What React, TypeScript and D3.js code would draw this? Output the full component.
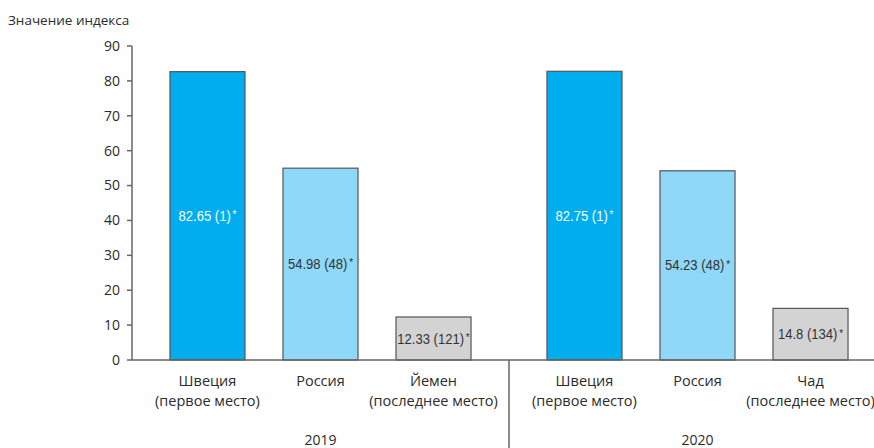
import React from "react";
import * as d3 from "d3";

const years = ["2019", "2020"];
const countries2019 = ["Швеция|(первое место)", "Россия", "Йемен|(последнее место)"];
const countries2020 = ["Швеция|(первое место)", "Россия", "Чад|(последнее место)"];
const values2019 = [82.65, 54.98, 12.33];
const values2020 = [82.75, 54.23, 14.8];
const ranks2019 = [1, 48, 121];
const ranks2020 = [1, 48, 134];
const barColors = ["#00aeef", "#8fd8f7", "#d3d3d3"];
const labelColors = ["#ffffff", "#333333", "#333333"];
const yTicks = [0, 10, 20, 30, 40, 50, 60, 70, 80, 90];

const W = 874;
const H = 448;
const axisX = 132;
const groupWidth = 377;

export default function App() {
  const y = d3.scaleLinear().domain([0, 90]).range([360, 46]);
  const groupScale = d3
    .scaleBand<string>()
    .domain(years)
    .range([axisX, axisX + groupWidth * 2]);
  const inner = d3
    .scaleBand<number>()
    .domain([0, 1, 2])
    .range([0, groupWidth])
    .paddingInner(0.336)
    .paddingOuter(0.336);

  const groups = [
    { year: years[0], names: countries2019, values: values2019, ranks: ranks2019 },
    { year: years[1], names: countries2020, values: values2020, ranks: ranks2020 },
  ];

  const sans = "'Open Sans', 'DejaVu Sans', sans-serif";
  const narrow = "'Liberation Sans', Arial, sans-serif";

  return (
    <svg
      width={W}
      height={H}
      style={{ position: "absolute", left: 0, top: 0, background: "#fff" }}
    >
      <text x={8} y={25} fontFamily={sans} fontSize={13.5} fill="#2b2b2b">
        Значение индекса
      </text>

      {/* Y axis */}
      <line x1={axisX} x2={axisX} y1={y(90)} y2={y(0)} stroke="#666" strokeWidth={1.5} />
      {yTicks.map((t) => (
        <g key={t}>
          <line x1={axisX - 5} x2={axisX} y1={y(t)} y2={y(t)} stroke="#666" strokeWidth={1.5} />
          <text
            x={axisX - 12}
            y={y(t)}
            dy="0.35em"
            textAnchor="end"
            fontFamily={sans}
            fontSize={14}
            fill="#2b2b2b"
          >
            {t}
          </text>
        </g>
      ))}

      {/* Bars */}
      {groups.map((g) => {
        const gx = groupScale(g.year)!;
        return (
          <g key={g.year}>
            {g.values.map((v, i) => {
              const bx = gx + inner(i)!;
              const bw = inner.bandwidth();
              const cx = bx + bw / 2;
              const cy = (y(v) + y(0)) / 2;
              const lines = g.names[i].split("|");
              return (
                <g key={i}>
                  <rect
                    x={bx}
                    y={y(v)}
                    width={bw}
                    height={y(0) - y(v)}
                    fill={barColors[i]}
                    stroke="#555"
                    strokeWidth={1.2}
                  />
                  {/* condensed value label */}
                  <text
                    transform={`translate(${cx},${cy}) scale(0.9,1)`}
                    dy="0.35em"
                    textAnchor="middle"
                    fontFamily={narrow}
                    fontSize={14.5}
                    fill={labelColors[i]}
                  >
                    {`${v} (${g.ranks[i]})`}
                    <tspan fontSize={11} dy="-0.25em" dx="2">*</tspan>
                  </text>
                  {lines.map((ln, k) => (
                    <text
                      key={k}
                      x={cx}
                      y={386 + k * 20}
                      textAnchor="middle"
                      fontFamily={sans}
                      fontSize={14.5}
                      fill="#2b2b2b"
                    >
                      {ln}
                    </text>
                  ))}
                </g>
              );
            })}
            <text
              x={gx + groupWidth / 2}
              y={445}
              textAnchor="middle"
              fontFamily={sans}
              fontSize={14}
              fill="#2b2b2b"
            >
              {g.year}
            </text>
          </g>
        );
      })}

      {/* X axis and group separator */}
      <line x1={axisX} x2={W} y1={y(0)} y2={y(0)} stroke="#666" strokeWidth={1.5} />
      <line
        x1={groupScale(years[1])!}
        x2={groupScale(years[1])!}
        y1={y(0)}
        y2={H}
        stroke="#666"
        strokeWidth={1.5}
      />
    </svg>
  );
}
